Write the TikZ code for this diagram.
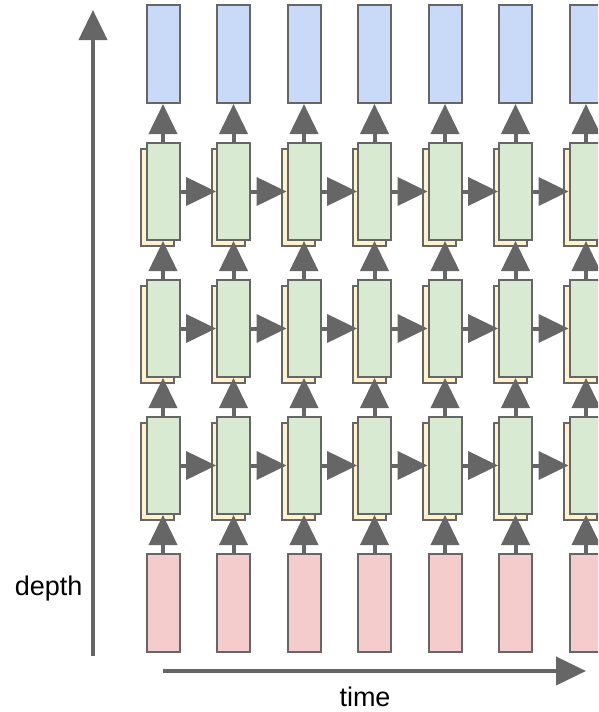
\documentclass[tikz,border=0pt]{standalone}
\usepackage{fontspec}
\setmainfont{Liberation Sans}
\usetikzlibrary{arrows.meta}
\definecolor{linegray}{HTML}{666666}
\definecolor{outblue}{HTML}{C9DAF8}
\definecolor{layergreen}{HTML}{D9EAD3}
\definecolor{backyellow}{HTML}{FFF2CC}
\definecolor{inred}{HTML}{F4CCCC}
\begin{document}
\begin{tikzpicture}[x=1pt, y=-1pt,
    cell/.style={draw=linegray, line width=2pt, minimum width=33pt, minimum height=98pt, inner sep=0pt},
    flow/.style={draw=linegray, line width=4pt, -{Triangle[length=30pt, width=28pt]}},
    axislabel/.style={font=\fontsize{27}{31}\selectfont}]
    \useasboundingbox (0,0) rectangle (598,712);
    \clip (0,0) rectangle (598,712);
    \foreach \i in {0,...,6} {
      \node[cell, fill=outblue] (out\i) at ({163+70.5*\i},54) {};
      \foreach \r/\yc in {1/191.5, 2/328.5, 3/465.5} {
        \node[cell, fill=backyellow, minimum height=97pt] (back\r\i) at ({157.5+70.5*\i},{\yc+5.5}) {};
        \node[cell, fill=layergreen, minimum height=97pt] (lstm\r\i) at ({163+70.5*\i},\yc) {};
      }
      \node[cell, fill=inred] (in\i) at ({163+70.5*\i},603) {};
    }
    \foreach \i in {0,...,6} {
      \draw[flow] (in\i) -- (lstm3\i);
      \draw[flow] (lstm3\i) -- (lstm2\i);
      \draw[flow] (lstm2\i) -- (lstm1\i);
      \draw[flow] (lstm1\i) -- (out\i);
    }
    \foreach \i [evaluate=\i as \j using int(\i+1)] in {0,...,5}
      \foreach \r in {1,2,3}
        \draw[flow] (lstm\r\i) -- (lstm\r\j);
    \coordinate (depthfoot) at (93,656);
    \coordinate (depthtip) at (93,10);
    \coordinate (timefoot) at (163,671);
    \coordinate (timetip) at (586,671);
    \draw[flow] (depthfoot) -- (depthtip);
    \draw[flow] (timefoot) -- (timetip);
    \node[axislabel, anchor=east] (depthlabel) at (86,589) {depth};
    \node[axislabel] (timelabel) at (365,697) {time};
\end{tikzpicture}
\end{document}
